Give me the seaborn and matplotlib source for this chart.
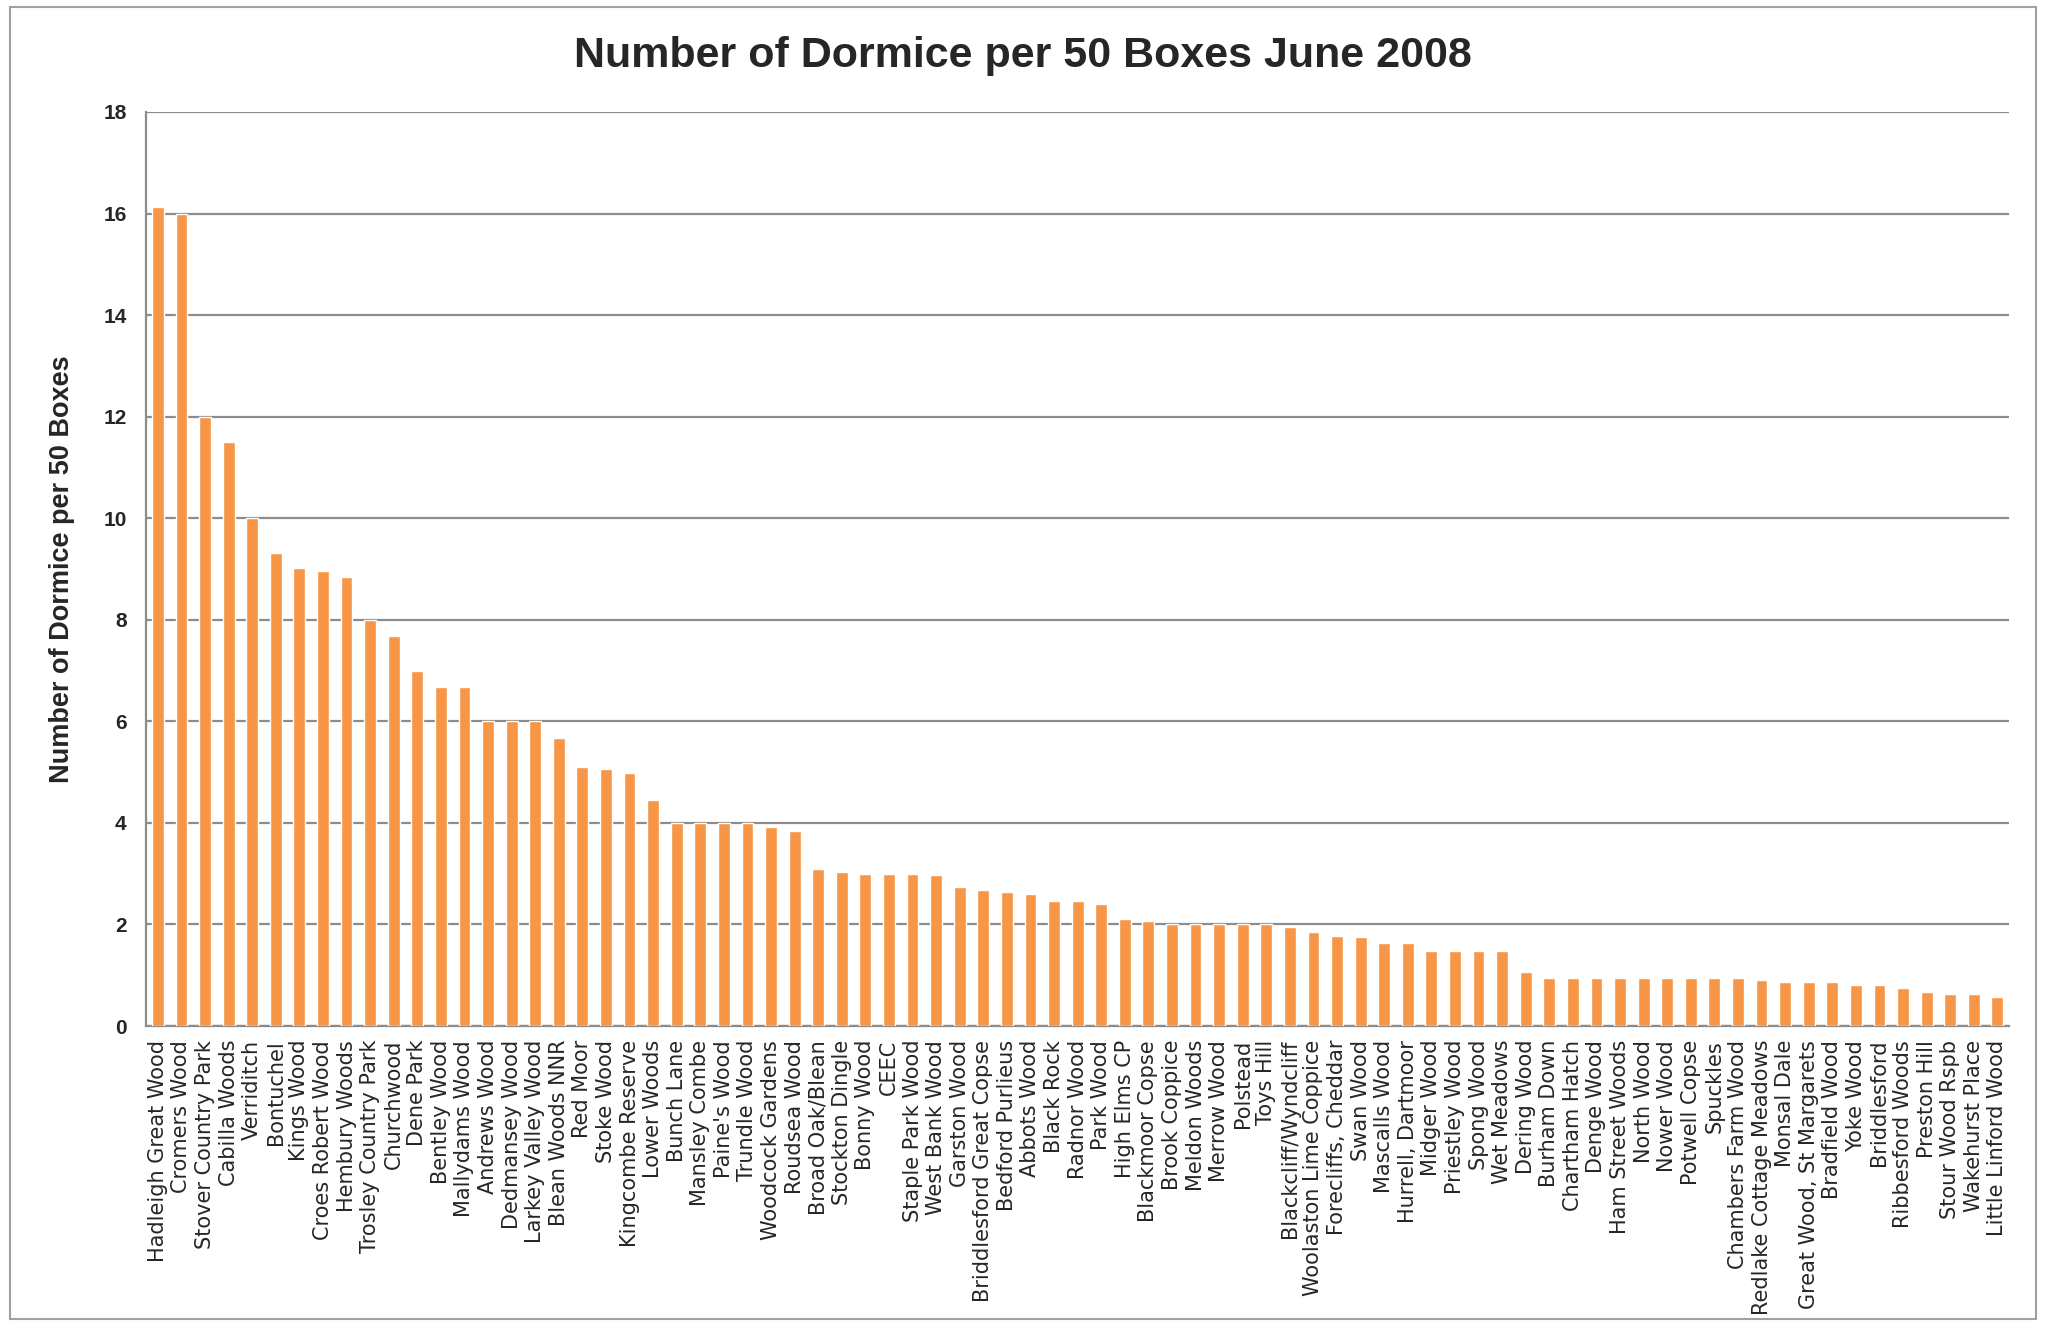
"""
Dormice per 50 boxes, June 2008 - bar chart recreation.
"""

import matplotlib
matplotlib.use("Agg")
import matplotlib.pyplot as plt
from matplotlib.patches import Rectangle
import seaborn as sns
import pandas as pd
import numpy as np

sites = [
    "Hadleigh Great Wood", "Cromers Wood", "Stover Country Park", "Cabilla Woods",
    "Verriditch", "Bontuchel", "Kings Wood", "Croes Robert Wood", "Hembury Woods",
    "Trosley Country Park", "Churchwood", "Dene Park", "Bentley Wood",
    "Mallydams Wood", "Andrews Wood", "Dedmansey Wood", "Larkey Valley Wood",
    "Blean Woods NNR", "Red Moor", "Stoke Wood", "Kingcombe Reserve",
    "Lower Woods", "Bunch Lane", "Mansley Combe", "Paine's Wood", "Trundle Wood",
    "Woodcock Gardens", "Roudsea Wood", "Broad Oak/Blean", "Stockton Dingle",
    "Bonny Wood", "CEEC", "Staple Park Wood", "West Bank Wood", "Garston Wood",
    "Briddlesford Great Copse", "Bedford Purlieus", "Abbots Wood", "Black Rock",
    "Radnor Wood", "Park Wood", "High Elms CP", "Blackmoor Copse",
    "Brook Coppice", "Meldon Woods", "Merrow Wood", "Polstead", "Toys Hill",
    "Blackcliff/Wyndcliff", "Woolaston Lime Coppice", "Forecliffs, Cheddar",
    "Swan Wood", "Mascalls Wood", "Hurrell, Dartmoor", "Midger Wood",
    "Priestley Wood", "Spong Wood", "Wet Meadows", "Dering Wood", "Burham Down",
    "Chartham Hatch", "Denge Wood", "Ham Street Woods", "North Wood",
    "Nower Wood", "Potwell Copse", "Spuckles", "Chambers Farm Wood",
    "Redlake Cottage Meadows", "Monsal Dale", "Great Wood, St Margarets",
    "Bradfield Wood", "Yoke Wood", "Briddlesford", "Ribbesford Woods",
    "Preston Hill", "Stour Wood Rspb", "Wakehurst Place", "Little Linford Wood",
]

dormice = [
    16.13, 16.0, 12.0, 11.5,
    10.0, 9.31, 9.02, 8.97, 8.84,
    8.0, 7.68, 7.0, 6.67,
    6.67, 6.0, 6.0, 6.0,
    5.67, 5.1, 5.06, 4.98,
    4.45, 4.0, 4.0, 4.0, 4.0,
    3.92, 3.84, 3.1, 3.03,
    3.0, 3.0, 3.0, 2.97, 2.73,
    2.68, 2.63, 2.59, 2.47,
    2.47, 2.4, 2.1, 2.07,
    2.0, 2.0, 2.0, 2.0, 2.0,
    1.94, 1.86, 1.77,
    1.76, 1.63, 1.63, 1.48,
    1.48, 1.48, 1.48, 1.06, 0.94,
    0.94, 0.94, 0.94, 0.94,
    0.94, 0.95, 0.95, 0.95,
    0.91, 0.87, 0.87,
    0.87, 0.8, 0.8, 0.75,
    0.66, 0.63, 0.63, 0.58,
]

y_ticks = [0, 2, 4, 6, 8, 10, 12, 14, 16, 18]

BAR_COLOR = "#F79646"
GRID_COLOR = "#8C8C8C"

sns.set_style("white")
plt.rcParams["font.family"] = ["Liberation Sans", "DejaVu Sans"]

df = pd.DataFrame({"site": sites, "dormice": dormice})

fig = plt.figure(figsize=(20.46, 13.28), dpi=100)
ax = fig.add_axes([0.0714, 0.2274, 0.9106, 0.6883])

sns.barplot(data=df, x="site", y="dormice", color=BAR_COLOR, width=0.5,
            saturation=1, ax=ax, zorder=3)

# axes limits / grid
ax.set_xlim(-0.5, len(sites) - 0.5)
ax.set_ylim(0, 18)
ax.set_yticks(y_ticks)
ax.set_yticklabels([str(t) for t in y_ticks], fontsize=15, fontweight="bold")
ax.yaxis.grid(True, color=GRID_COLOR, linewidth=1.6, zorder=0)
ax.xaxis.grid(False)

# category labels, tick marks between categories like Excel
ax.set_xticks(np.arange(len(sites)))
ax.set_xticklabels(sites, rotation=90, fontsize=15, family="DejaVu Sans")
ax.set_xticks(np.arange(len(sites) + 1) - 0.5, minor=True)
ax.tick_params(axis="x", which="major", length=0, pad=10)
ax.tick_params(axis="x", which="minor", length=6, width=1.2, color=GRID_COLOR,
               direction="out")
ax.tick_params(axis="y", length=6, width=1.2, color=GRID_COLOR, direction="out",
               pad=8)

for side in ["top", "right"]:
    ax.spines[side].set_visible(False)
for side in ["left", "bottom"]:
    ax.spines[side].set_color(GRID_COLOR)
    ax.spines[side].set_linewidth(1.6)

ax.set_xlabel("")
ax.set_ylabel("Number of Dormice per 50 Boxes", fontsize=19.5, fontweight="bold",
              labelpad=20)

fig.suptitle("Number of Dormice per 50 Boxes June 2008", fontsize=31,
             fontweight="bold", y=0.973, x=0.5)

# outer chart frame
fig.patches.append(Rectangle((0.005, 0.007), 0.99, 0.988, transform=fig.transFigure,
                             fill=False, edgecolor="#A0A0A0", linewidth=1.5))

fig.savefig("out.png", dpi=100)
